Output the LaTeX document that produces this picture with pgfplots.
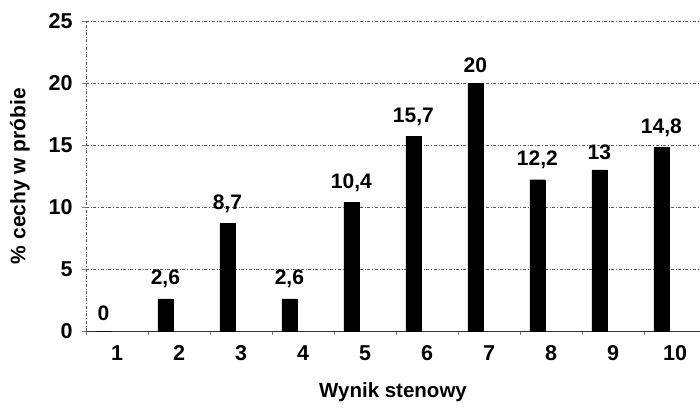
\documentclass[border=0pt]{standalone}
\usepackage{pgfplots}
\pgfplotsset{compat=1.18}
\usepackage{fontspec}
\setmainfont{Liberation Sans}
\definecolor{gridgray}{RGB}{90,90,90}

\begin{document}
\begin{tikzpicture}
\path[use as bounding box] (-86pt,-79pt) rectangle (614pt,331pt);
\begin{axis}[
    at={(0,0)}, anchor=south west,
    scale only axis,
    width=614pt, height=310pt,
    xmin=0.5, xmax=10.403,
    ymin=0, ymax=25,
    ytick={0,5,...,25},
    xtick={1,...,10},
    major x tick style={draw=none},
    minor xtick={0.5,1.5,...,9.5},
    minor tick length=4pt,
    major tick length=4pt,
    tick align=outside,
    tick pos=left,
    axis x line*=bottom,
    axis y line*=left,
    x axis line style={draw=black!80, line width=0.8pt, -},
    y axis line style={draw=gridgray, dash dot, line width=0.5pt, -},
    ymajorgrids,
    grid style={draw=gridgray, dash dot, line width=0.8pt},
    tick label style={font=\fontsize{21.5}{24}\selectfont\bfseries},
    yticklabel style={xshift=-6pt},
    xticklabel style={yshift=-7pt},
    /pgf/number format/assume math mode=true,
    /pgf/number format/use comma,
    xlabel={\fontsize{20.5}{24}\selectfont\bfseries Wynik stenowy},
    ylabel={\fontsize{21}{24}\selectfont\bfseries \% cechy w próbie},
    xlabel style={yshift=-15pt},
    ylabel style={yshift=12pt},
    ybar, bar width=15pt,
    bar shift=0pt,
    nodes near coords,
    nodes near coords style={font=\fontsize{21}{24}\selectfont\bfseries, black, yshift=7pt},
]
\addplot[fill=black, draw=black] coordinates {
    (0.78,0) (1.78,2.6) (2.78,8.7) (3.78,2.6) (4.78,10.4)
    (5.78,15.7) (6.78,20) (7.78,12.2) (8.78,13) (9.78,14.8)
};
\end{axis}
\end{tikzpicture}
\end{document}
